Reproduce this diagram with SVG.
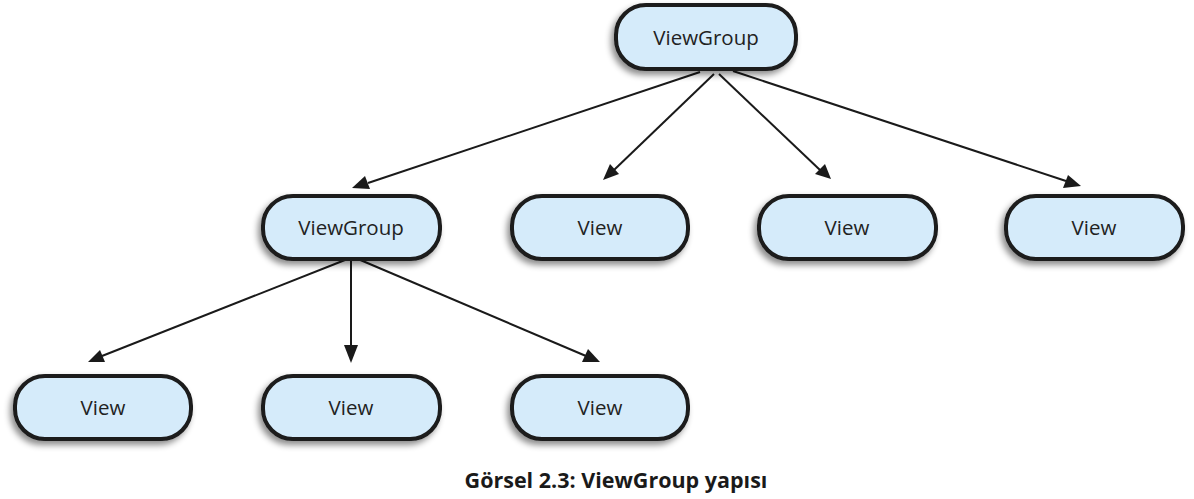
<svg xmlns="http://www.w3.org/2000/svg" width="1194" height="499" viewBox="0 0 1194 499">
<defs>
<filter id="sh" x="-20%" y="-30%" width="140%" height="170%">
<feDropShadow dx="-3" dy="4" stdDeviation="3" flood-color="#000" flood-opacity="0.45"/>
</filter>
</defs>
<style>
.box{fill:#d5ebfa;stroke:#1a1a1a;stroke-width:4;filter:url(#sh)}
.t{font-family:"Open Sans","Liberation Sans",sans-serif;font-size:20.5px;fill:#222;text-anchor:middle}
.c{stroke:#1a1a1a;stroke-width:2;fill:none}
.ah{fill:#1a1a1a}
.cap{font-family:"Open Sans","Liberation Sans",sans-serif;font-size:21.5px;font-weight:bold;fill:#1a1a1a;text-anchor:middle}
</style>
<g id="connectors">
<path class="c" d="M700,72 L368,183"/>
<path class="ah" d="M352,188 L365,176 L370,189 z"/>
<path class="c" d="M714,74 L614,170"/>
<path class="ah" d="M603,180 L610,164 L619,174 z"/>
<path class="c" d="M719,74 L820,170"/>
<path class="ah" d="M831,179 L815,174 L825,164 z"/>
<path class="c" d="M733,71 L1066,181"/>
<path class="ah" d="M1081,186 L1063,188 L1068,175 z"/>
<path class="c" d="M345,260 L102,356"/>
<path class="ah" d="M88,362 L100,350 L105,362 z"/>
<path class="c" d="M351,260 L351,347"/>
<path class="ah" d="M351,363 L344,345 L358,345 z"/>
<path class="c" d="M358,259 L586,356"/>
<path class="ah" d="M600,362 L582,362 L588,349 z"/>
</g>
<g id="n0"><rect class="box" x="616" y="5" width="180" height="64" rx="30"/><text class="t" x="706" y="45">ViewGroup</text></g>
<g id="n1"><rect class="box" x="263" y="196" width="177" height="63" rx="30"/><text class="t" x="351" y="235">ViewGroup</text></g>
<g id="n2"><rect class="box" x="512" y="196" width="176" height="63" rx="30"/><text class="t" x="600" y="235">View</text></g>
<g id="n3"><rect class="box" x="759" y="196" width="177" height="63" rx="30"/><text class="t" x="847" y="235">View</text></g>
<g id="n4"><rect class="box" x="1006" y="196" width="177" height="63" rx="30"/><text class="t" x="1094" y="235">View</text></g>
<g id="n5"><rect class="box" x="15" y="376" width="176" height="63" rx="30"/><text class="t" x="103" y="415">View</text></g>
<g id="n6"><rect class="box" x="263" y="376" width="177" height="63" rx="30"/><text class="t" x="351" y="415">View</text></g>
<g id="n7"><rect class="box" x="512" y="376" width="176" height="63" rx="30"/><text class="t" x="600" y="415">View</text></g>
<text class="cap" x="616" y="488">Görsel 2.3: ViewGroup yapısı</text>
</svg>
